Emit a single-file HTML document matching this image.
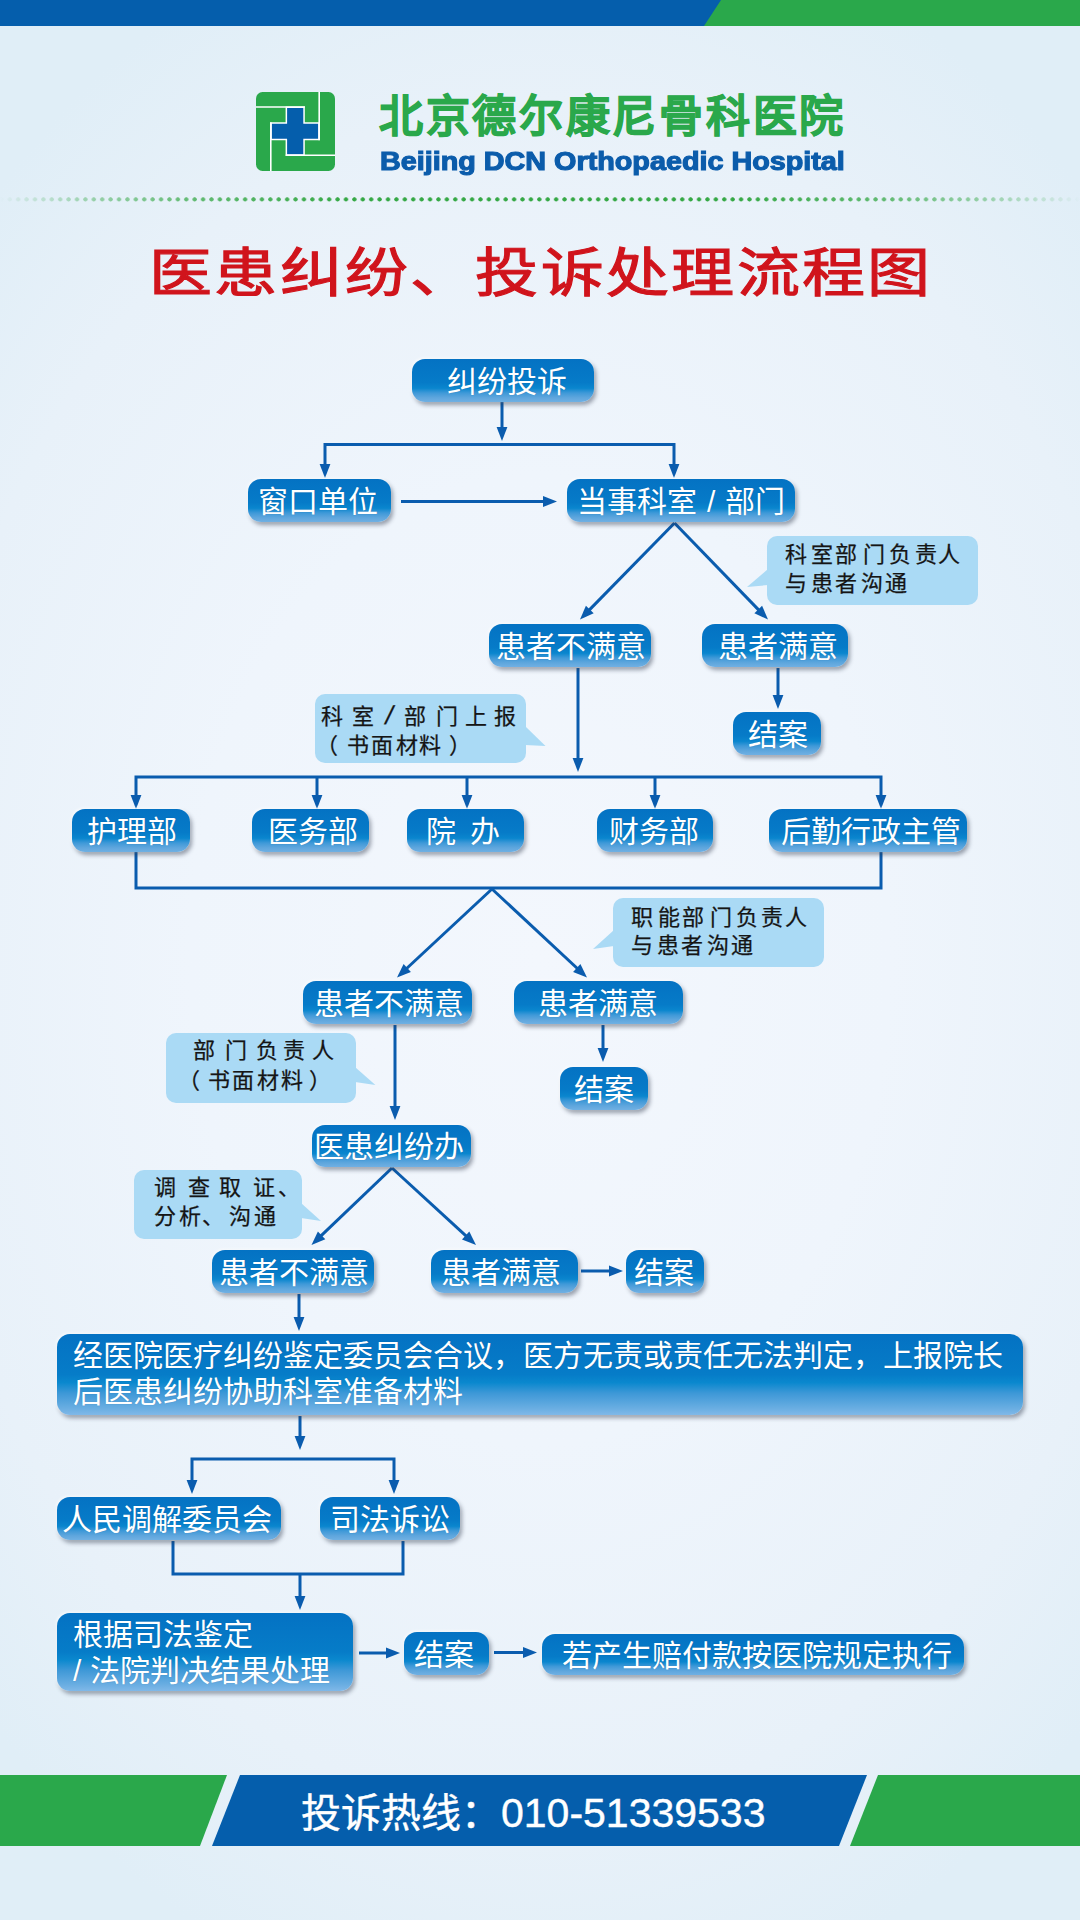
<!DOCTYPE html>
<html lang="zh-CN"><head><meta charset="utf-8"><title>医患纠纷、投诉处理流程图</title>
<style>
*{margin:0;padding:0;box-sizing:border-box}
html,body{width:1080px;height:1920px;overflow:hidden}
body{position:relative;font-family:"Liberation Sans",sans-serif;
background:radial-gradient(ellipse 72% 56% at 50% 50%,#f3f7fd 0%,#eff5fc 45%,#e8f1f9 80%,#e0eef7 100%);}
.abs{position:absolute}
i{font-style:normal;display:inline-block;width:1em}
.bx{position:absolute;border-radius:13px;color:#fff;font-size:30px;text-align:center;white-space:nowrap;
background:linear-gradient(to bottom,#0472c3 0%,#067bc8 55%,#0a86ce 68%,#3f99d8 79%,#5ea6dd 90%,#70b0e3 100%);
box-shadow:-1px -1px 3px rgba(255,255,255,.75),2px 3px 4px rgba(40,50,70,.45);text-shadow:0 0 1px rgba(0,40,90,.3)}
.big{text-align:left;line-height:36px;padding-top:3.5px;border-radius:13px;background:linear-gradient(to bottom,#0472c3 0%,#067cc8 50%,#0a88ce 60%,#3d98d7 73%,#6aaee2 92%,#80b8e8 100%)}
.co{position:absolute;background:#aadaf5;border-radius:10px}
.cl{position:absolute;left:0;height:22px;font-family:"Liberation Sans",sans-serif;font-size:22px;line-height:22px;color:#151515;white-space:nowrap;-webkit-text-stroke:0.25px #151515}
.cl span{position:absolute;top:0}
</style></head><body>
<svg class="abs" style="left:0;top:0" width="1080" height="30" viewBox="0 0 1080 30">
<rect x="0" y="0" width="1080" height="26" fill="#055eac"/>
<polygon points="721,0 1080,0 1080,26 704,26" fill="#2aa84b"/>
</svg>
<svg class="abs" style="left:256px;top:92px" width="79" height="79" viewBox="0 0 79 79">
<rect x="0" y="0" width="79" height="79" rx="6.5" fill="#2aa84b"/>
<path d="M29.6,14.5 H48.8 V30.2 H63.7 V48.3 H48.8 V63.75 H29.6 V48.3 H14.3 V30.2 H29.6 Z" fill="#fff"/>
<path d="M31.1,16 H47.3 V31.7 H62.2 V46.8 H47.3 V62.25 H31.1 V46.8 H15.8 V31.7 H31.1 Z" fill="#055eac"/>
<g stroke="#fff" stroke-width="1.6" fill="none">
<line x1="0" y1="15" x2="49" y2="15"/>
<line x1="63.2" y1="0" x2="63.2" y2="48.3"/>
<line x1="29.6" y1="63.3" x2="79" y2="63.3"/>
<line x1="14.8" y1="30.2" x2="14.8" y2="79"/>
</g>
</svg>
<div class="abs" style="left:379px;top:90px;font-size:44px;font-weight:900;color:#2aa84b;-webkit-text-stroke:0.9px #2aa84b;line-height:54px;white-space:nowrap"><i style="width:46.7px">北</i><i style="width:46.7px">京</i><i style="width:46.7px">德</i><i style="width:46.7px">尔</i><i style="width:46.7px">康</i><i style="width:46.7px">尼</i><i style="width:46.7px">骨</i><i style="width:46.7px">科</i><i style="width:46.7px">医</i><i style="width:46.7px">院</i></div>
<div class="abs" style="left:380px;top:146px;font-size:25px;font-weight:700;color:#0b5cab;line-height:30px;white-space:nowrap;-webkit-text-stroke:1.1px #0b5cab;transform:scaleX(1.15);transform-origin:0 0">Beijing DCN Orthopaedic Hospital</div>
<div class="abs" style="left:0;top:196px;width:1080px;height:7px;
background:radial-gradient(circle at 4.21px 3.4px,#35a845 1.8px,rgba(53,168,69,0) 2.4px) -2.9px 0/8.42px 7px repeat-x;
-webkit-mask:linear-gradient(to right,transparent 0%,rgba(0,0,0,.12) 2%,rgba(0,0,0,.45) 9%,rgba(0,0,0,.75) 18%,#000 32%,#000 68%,rgba(0,0,0,.75) 82%,rgba(0,0,0,.45) 91%,rgba(0,0,0,.12) 98%,transparent 100%)"></div>
<div class="abs" style="left:149px;top:244px;font-family:'Liberation Sans',sans-serif;font-size:63px;font-weight:500;color:#d0141c;-webkit-text-stroke:1.3px #d0141c;line-height:70px;white-space:nowrap;transform:scaleY(0.85);transform-origin:0 0"><i style="width:65.3px">医</i><i style="width:65.3px">患</i><i style="width:65.3px">纠</i><i style="width:65.3px">纷</i><i style="width:65.3px">、</i><i style="width:65.3px">投</i><i style="width:65.3px">诉</i><i style="width:65.3px">处</i><i style="width:65.3px">理</i><i style="width:65.3px">流</i><i style="width:65.3px">程</i><i style="width:65.3px">图</i></div>
<svg class="abs" style="left:0;top:0" width="1080" height="1920" viewBox="0 0 1080 1920">
<g fill="#aadaf5"><polygon points="768,569 747,587 768,585"/><polygon points="525,726 545.5,746 525,745"/><polygon points="614,930 593,949 614,946"/><polygon points="355,1067 375.4,1085 355,1082"/><polygon points="301,1203 321,1221 301,1218"/></g>
<g fill="none" stroke="#0a5cae" stroke-width="3" stroke-linejoin="miter"><polyline points="502,402 502,430"/><polyline points="325,465 325,444.5 674,444.5 674,465"/><polyline points="401,501.5 546,501.5"/><polyline points="674.5,523 587.7,611.6"/><polyline points="674.5,523 760.3,611.6"/><polyline points="778,668 778,698"/><polyline points="578,668 578,761"/><polyline points="136,796 136,777 881,777 881,796"/><polyline points="317,777 317,798"/><polyline points="467,777 467,798"/><polyline points="655,777 655,798"/><polyline points="136,852 136,888 881,888 881,852"/><polyline points="492,889 405,970"/><polyline points="492,889 579,970"/><polyline points="603,1025 603,1051"/><polyline points="395,1025 395,1109"/><polyline points="392,1168 319.4,1237.4"/><polyline points="392,1168 467.9,1237.6"/><polyline points="581,1271 612,1271"/><polyline points="299,1294 299,1320"/><polyline points="300,1416 300,1439"/><polyline points="192,1481 192,1459 394,1459 394,1481"/><polyline points="173,1541 173,1574 403,1574 403,1541"/><polyline points="300,1574 300,1599"/><polyline points="359,1653 389,1653"/><polyline points="494,1652.5 526,1652.5"/></g>
<g fill="#0a5cae"><polygon points="502.0,441.0 496.6,427.0 507.4,427.0"/><polygon points="325.0,478.0 319.6,464.0 330.4,464.0"/><polygon points="674.0,478.0 668.6,464.0 679.4,464.0"/><polygon points="557.0,501.5 543.0,506.9 543.0,496.1"/><polygon points="580.0,619.5 585.9,605.7 593.7,613.3"/><polygon points="768.0,619.5 754.4,613.2 762.1,605.7"/><polygon points="778.0,709.0 772.6,695.0 783.4,695.0"/><polygon points="578.0,772.0 572.6,758.0 583.4,758.0"/><polygon points="136.0,809.0 130.6,795.0 141.4,795.0"/><polygon points="881.0,809.0 875.6,795.0 886.4,795.0"/><polygon points="317.0,809.0 311.6,795.0 322.4,795.0"/><polygon points="467.0,809.0 461.6,795.0 472.4,795.0"/><polygon points="655.0,809.0 649.6,795.0 660.4,795.0"/><polygon points="397.0,977.5 403.6,964.0 410.9,971.9"/><polygon points="587.0,977.5 573.1,971.9 580.4,964.0"/><polygon points="603.0,1062.0 597.6,1048.0 608.4,1048.0"/><polygon points="395.0,1120.0 389.6,1106.0 400.4,1106.0"/><polygon points="311.5,1245.0 317.9,1231.4 325.3,1239.2"/><polygon points="476.0,1245.0 462.0,1239.5 469.3,1231.6"/><polygon points="623.0,1271.0 609.0,1276.4 609.0,1265.6"/><polygon points="299.0,1331.0 293.6,1317.0 304.4,1317.0"/><polygon points="300.0,1450.0 294.6,1436.0 305.4,1436.0"/><polygon points="192.0,1494.0 186.6,1480.0 197.4,1480.0"/><polygon points="394.0,1494.0 388.6,1480.0 399.4,1480.0"/><polygon points="300.0,1610.0 294.6,1596.0 305.4,1596.0"/><polygon points="400.0,1653.0 386.0,1658.4 386.0,1647.6"/><polygon points="537.0,1652.5 523.0,1657.9 523.0,1647.1"/></g>
</svg>
<div class="co" style="left:767px;top:536px;width:211px;height:69px"></div>
<div class="cl" style="top:543.8px"><span style="left:785.0px">科</span><span style="left:811.1px">室</span><span style="left:835.0px">部</span><span style="left:863.3px">门</span><span style="left:889.4px">负</span><span style="left:914.5px">责</span><span style="left:938.3px">人</span></div>
<div class="cl" style="top:573.0px"><span style="left:785.2px">与</span><span style="left:810.7px">患</span><span style="left:835.4px">者</span><span style="left:860.6px">沟</span><span style="left:884.8px">通</span></div>
<div class="co" style="left:315px;top:694px;width:211px;height:69px"></div>
<div class="cl" style="top:705.8px"><span style="left:321.2px">科</span><span style="left:351.6px">室</span><span style="left:386.0px;top:-2px;font-family:&quot;Liberation Sans&quot;,sans-serif;font-size:26px;transform:skewX(-12deg)">/</span><span style="left:404.3px">部</span><span style="left:435.5px">门</span><span style="left:464.6px">上</span><span style="left:494.2px">报</span></div>
<div class="cl" style="top:735.0px"><span style="left:316.2px">（</span><span style="left:346.7px">书</span><span style="left:371.1px">面</span><span style="left:396.1px">材</span><span style="left:419.3px">料</span><span style="left:449.1px">）</span></div>
<div class="co" style="left:613px;top:898px;width:211px;height:69px"></div>
<div class="cl" style="top:906.8px"><span style="left:631.3px">职</span><span style="left:657.6px">能</span><span style="left:681.5px">部</span><span style="left:709.8px">门</span><span style="left:735.9px">负</span><span style="left:761.0px">责</span><span style="left:784.8px">人</span></div>
<div class="cl" style="top:935.0px"><span style="left:631.2px">与</span><span style="left:656.7px">患</span><span style="left:681.4px">者</span><span style="left:706.6px">沟</span><span style="left:730.8px">通</span></div>
<div class="co" style="left:166px;top:1033px;width:190px;height:70px"></div>
<div class="cl" style="top:1039.5px"><span style="left:193.0px">部</span><span style="left:224.7px">门</span><span style="left:256.3px">负</span><span style="left:282.6px">责</span><span style="left:312.0px">人</span></div>
<div class="cl" style="top:1070.3px"><span style="left:178.0px">（</span><span style="left:207.8px">书</span><span style="left:232.4px">面</span><span style="left:256.9px">材</span><span style="left:280.5px">料</span><span style="left:309.3px">）</span></div>
<div class="co" style="left:134px;top:1170px;width:168px;height:69px"></div>
<div class="cl" style="top:1176.7px"><span style="left:153.6px">调</span><span style="left:187.5px">查</span><span style="left:219.0px">取</span><span style="left:252.5px">证</span><span style="left:277.7px">、</span></div>
<div class="cl" style="top:1205.8px"><span style="left:154.2px">分</span><span style="left:178.9px">析</span><span style="left:202.2px">、</span><span style="left:229.2px">沟</span><span style="left:253.5px">通</span></div>

<div class="bx" style="left:412px;top:359px;width:182px;height:43px;line-height:43px;"><span style="position:relative;left:4px;top:1px"><i>纠</i><i>纷</i><i>投</i><i>诉</i></span></div>
<div class="bx" style="left:248px;top:479px;width:143px;height:43px;line-height:43px;"><span style="position:relative;left:-1.6px;top:1px"><i>窗</i><i>口</i><i>单</i><i>位</i></span></div>
<div class="bx" style="left:567px;top:479px;width:228px;height:43px;line-height:43px;word-spacing:1.3px;"><span style="position:relative;left:0.3px;top:1px"><i>当</i><i>事</i><i>科</i><i>室</i> / <i>部</i><i>门</i></span></div>
<div class="bx" style="left:489px;top:624px;width:162px;height:43px;line-height:43px;"><span style="position:relative;left:0.6px;top:1px"><i>患</i><i>者</i><i>不</i><i>满</i><i>意</i></span></div>
<div class="bx" style="left:702px;top:624px;width:146px;height:43px;line-height:43px;"><span style="position:relative;left:3.1px;top:1px"><i>患</i><i>者</i><i>满</i><i>意</i></span></div>
<div class="bx" style="left:733px;top:712px;width:88px;height:43px;line-height:43px;"><span style="position:relative;left:0.7px;top:1px"><i>结</i><i>案</i></span></div>
<div class="bx" style="left:72px;top:809px;width:118px;height:43px;line-height:43px;"><span style="position:relative;left:1.4px;top:1px"><i>护</i><i>理</i><i>部</i></span></div>
<div class="bx" style="left:252px;top:809px;width:117px;height:43px;line-height:43px;"><span style="position:relative;left:2.4px;top:1px"><i>医</i><i>务</i><i>部</i></span></div>
<div class="bx" style="left:407px;top:809px;width:117px;height:43px;line-height:43px;"><span style="position:relative;left:-3.0px;top:1px"><i>院</i><b style="display:inline-block;width:14px"></b><i>办</i></span></div>
<div class="bx" style="left:597px;top:809px;width:116px;height:43px;line-height:43px;"><span style="position:relative;left:-1px;top:1px"><i>财</i><i>务</i><i>部</i></span></div>
<div class="bx" style="left:769px;top:809px;width:198px;height:43px;line-height:43px;"><span style="position:relative;left:2.5px;top:1px"><i>后</i><i>勤</i><i>行</i><i>政</i><i>主</i><i>管</i></span></div>
<div class="bx" style="left:303px;top:981px;width:169px;height:43px;line-height:43px;"><span style="position:relative;left:1.1px;top:1px"><i>患</i><i>者</i><i>不</i><i>满</i><i>意</i></span></div>
<div class="bx" style="left:514px;top:981px;width:169px;height:43px;line-height:43px;"><span style="position:relative;left:-0.8px;top:1px"><i>患</i><i>者</i><i>满</i><i>意</i></span></div>
<div class="bx" style="left:560px;top:1067px;width:88px;height:43px;line-height:43px;"><span style="position:relative;left:-0.1px;top:1px"><i>结</i><i>案</i></span></div>
<div class="bx" style="left:312px;top:1125px;width:159px;height:42px;line-height:42px;"><span style="position:relative;left:-2.9px;top:1px"><i>医</i><i>患</i><i>纠</i><i>纷</i><i>办</i></span></div>
<div class="bx" style="left:212px;top:1250px;width:162px;height:43px;line-height:43px;"><span style="position:relative;left:1.4px;top:1px"><i>患</i><i>者</i><i>不</i><i>满</i><i>意</i></span></div>
<div class="bx" style="left:431px;top:1250px;width:147px;height:43px;line-height:43px;"><span style="position:relative;left:-3.4px;top:1px"><i>患</i><i>者</i><i>满</i><i>意</i></span></div>
<div class="bx" style="left:626px;top:1250px;width:78px;height:43px;line-height:43px;"><span style="position:relative;left:-1.1px;top:1px"><i>结</i><i>案</i></span></div>
<div class="bx" style="left:57px;top:1497px;width:224px;height:43px;line-height:43px;"><span style="position:relative;left:-1.8px;top:1px"><i>人</i><i>民</i><i>调</i><i>解</i><i>委</i><i>员</i><i>会</i></span></div>
<div class="bx" style="left:320px;top:1497px;width:140px;height:43px;line-height:43px;"><span style="position:relative;left:0.3px;top:1px"><i>司</i><i>法</i><i>诉</i><i>讼</i></span></div>
<div class="bx" style="left:404px;top:1632px;width:85px;height:43px;line-height:43px;"><span style="position:relative;left:-2.6px;top:1px"><i>结</i><i>案</i></span></div>
<div class="bx" style="left:542px;top:1634px;width:422px;height:41px;line-height:41px;"><span style="position:relative;left:4.3px;top:1px"><i>若</i><i>产</i><i>生</i><i>赔</i><i>付</i><i>款</i><i>按</i><i>医</i><i>院</i><i>规</i><i>定</i><i>执</i><i>行</i></span></div>
<div class="bx big" style="left:57px;top:1334px;width:966px;height:81px;padding-left:16px;"><i>经</i><i>医</i><i>院</i><i>医</i><i>疗</i><i>纠</i><i>纷</i><i>鉴</i><i>定</i><i>委</i><i>员</i><i>会</i><i>合</i><i>议</i><i>，</i><i>医</i><i>方</i><i>无</i><i>责</i><i>或</i><i>责</i><i>任</i><i>无</i><i>法</i><i>判</i><i>定</i><i>，</i><i>上</i><i>报</i><i>院</i><i>长</i><br><i>后</i><i>医</i><i>患</i><i>纠</i><i>纷</i><i>协</i><i>助</i><i>科</i><i>室</i><i>准</i><i>备</i><i>材</i><i>料</i></div>
<div class="bx big" style="left:57px;top:1613px;width:296px;height:78px;padding-left:16px;"><i>根</i><i>据</i><i>司</i><i>法</i><i>鉴</i><i>定</i><br>/ <i>法</i><i>院</i><i>判</i><i>决</i><i>结</i><i>果</i><i>处</i><i>理</i></div>

<svg class="abs" style="left:0;top:1775px" width="1080" height="71" viewBox="0 0 1080 71">
<polygon points="0,0 227,0 200,71 0,71" fill="#2aa84b"/>
<polygon points="240,0 867,0 839,71 212,71" fill="#055eac"/>
<polygon points="878,0 1080,0 1080,71 850,71" fill="#2aa84b"/>
</svg>
<div class="abs" style="left:301px;top:1786px;font-size:40px;color:#fff;-webkit-text-stroke:0.4px #fff;line-height:54px;white-space:nowrap"><i style="width:40px">投</i><i style="width:40px">诉</i><i style="width:40px">热</i><i style="width:40px">线</i><i style="width:40px">：</i><span style="font-size:41px">010-51339533</span></div>
</body></html>
